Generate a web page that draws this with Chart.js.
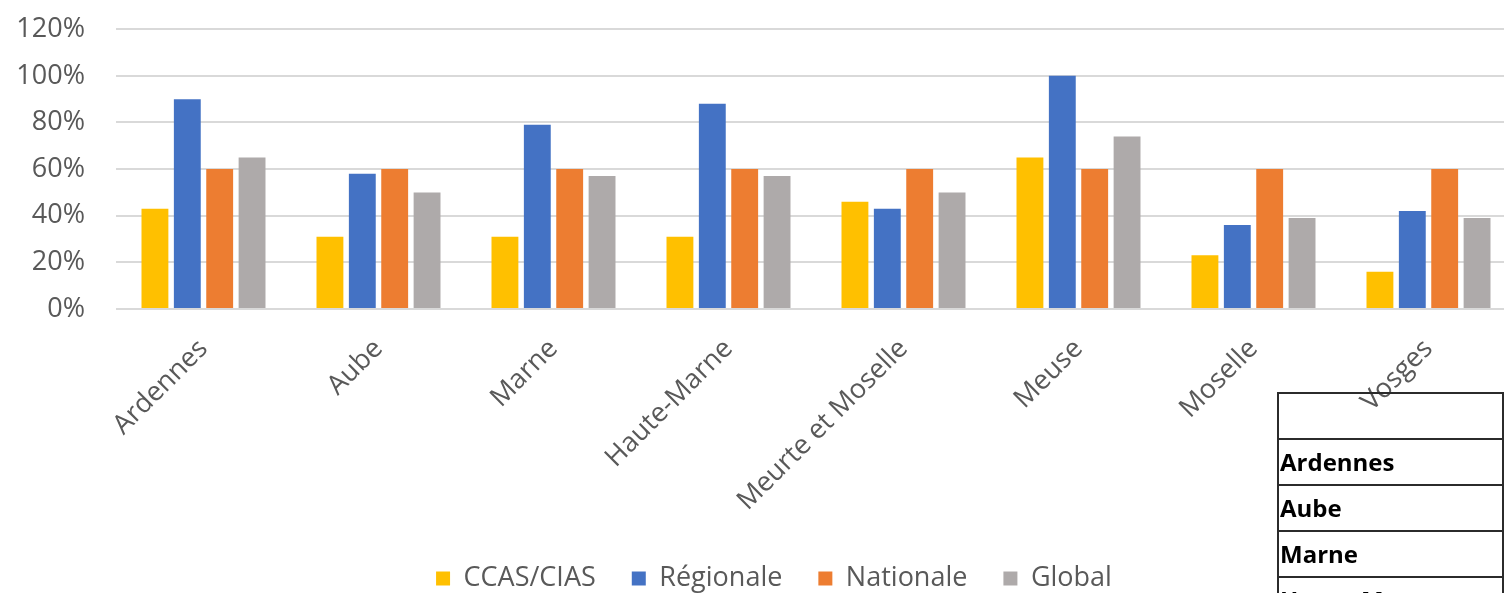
<!DOCTYPE html>
<html>
<head>
<meta charset="utf-8">
<script src="https://cdn.jsdelivr.net/npm/chart.js@4"></script>
<style>
  html, body { margin: 0; padding: 0; background: #fff; overflow: hidden; width: 1504px; height: 593px; }
  #wrap { position: relative; width: 1504px; height: 593px; overflow: hidden; }
  #graf { position: absolute; left: 0; top: 0; }
  #tabela { position: absolute; left: 1277px; top: 392px; border-collapse: collapse; font-family: "Open Sans", sans-serif; font-weight: 700; font-size: 24px; color: #000; }
  #tabela td { border: 2px solid #2b2b2b; height: 44px; width: 300px; padding: 0 0 0 1px; vertical-align: middle; line-height: 1; }
</style>
</head>
<body>
<div id="wrap">
  <canvas id="graf" width="1520" height="602"></canvas>
  <table id="tabela">
    <tr><td></td></tr>
    <tr><td>Ardennes</td></tr>
    <tr><td>Aube</td></tr>
    <tr><td>Marne</td></tr>
    <tr><td>Haute-Marne</td></tr>
  </table>
</div>
<script>
// departements
var departements = ['Ardennes', 'Aube', 'Marne', 'Haute-Marne', 'Meurte et Moselle', 'Meuse', 'Moselle', 'Vosges'];
// valeurs en %
var ccas      = [43, 31, 31, 31, 46, 65, 23, 16];
var regionale = [90, 58, 79, 88, 43, 100, 36, 42];
var nationale = [60, 60, 60, 60, 60, 60, 60, 60];
var global    = [65, 50, 57, 57, 50, 74, 39, 39];
// graduations de l'axe
var graduations = [0, 20, 40, 60, 80, 100, 120];

var gris = '#595959';

// decale la legende vers la droite (centree comme dans Excel)
var decalageLegende = {
    id: 'decalageLegende',
    afterLayout: function(chart) {
        chart.legend.left += 16;
        chart.legend.right += 16;
    }
};

var config = {
    type: 'bar',
    data: {
        labels: departements,
        datasets: [
            { label: 'CCAS/CIAS', data: ccas,      backgroundColor: '#FFC000' },
            { label: 'Régionale', data: regionale, backgroundColor: '#4472C4' },
            { label: 'Nationale', data: nationale, backgroundColor: '#ED7D31' },
            { label: 'Global',    data: global,    backgroundColor: '#AEAAAA' }
        ]
    },
    options: {
        responsive: false,
        animation: false,
        categoryPercentage: 0.74,
        barPercentage: 0.83,
        layout: {
            padding: { top: 29, left: 0, right: 4, bottom: 0 }
        },
        plugins: {
            tooltip: { enabled: false },
            legend: {
                position: 'bottom',
                labels: {
                    boxWidth: 14,
                    boxHeight: 14,
                    padding: 36,
                    color: gris,
                    font: { family: '"Open Sans", sans-serif', size: 27 }
                }
            }
        },
        scales: {
            x: {
                grid: { display: false, drawTicks: false },
                border: { display: false },
                ticks: {
                    minRotation: 45,
                    maxRotation: 45,
                    padding: 24,
                    color: gris,
                    font: { family: '"Open Sans", sans-serif', size: 27 }
                },
                afterFit: function(escala) { escala.height = 220; }
            },
            y: {
                min: graduations[0],
                max: graduations[graduations.length - 1],
                afterBuildTicks: function(escala) {
                    escala.ticks = graduations.map(function(v) { return { value: v }; });
                },
                grid: { color: '#D9D9D9', lineWidth: 2, drawTicks: true, tickLength: 18, tickColor: 'rgba(0,0,0,0)' },
                border: { display: false },
                ticks: {
                    padding: 13,
                    color: gris,
                    font: { family: '"Open Sans", sans-serif', size: 27 },
                    callback: function(v) { return v + '%'; }
                },
                afterFit: function(escala) { escala.width = 116; }
            }
        }
    },
    plugins: [decalageLegende]
};

const Grafico = new Chart(document.getElementById('graf'), config);
</script>
</body>
</html>
